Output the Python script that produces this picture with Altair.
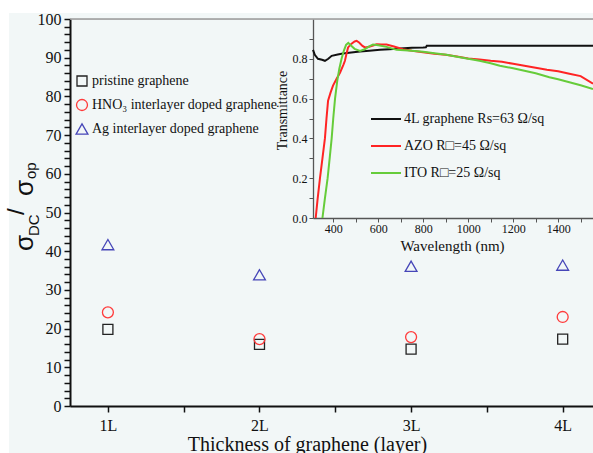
import altair as alt
import pandas as pd

# ---------------- main scatter data ----------------
layers = ["1L", "2L", "3L", "4L"]
series_names = ["pristine graphene", "HNO₃ interlayer doped graphene", "Ag interlayer doped graphene"]
pristine = [19.8, 15.9, 14.7, 17.3]
hno3 = [24.2, 17.3, 17.8, 23.0]
ag = [41.7, 33.9, 36.1, 36.4]

# ---------------- inset transmittance data ----------------
curve_names = ["4L graphene Rs=63 Ω/sq", "AZO R□=45 Ω/sq", "ITO R□=25 Ω/sq"]
graphene_nm = [310, 318, 332, 350, 363, 378, 393, 420, 443, 480, 519, 560, 608, 650, 697, 750, 800, 812, 816, 900, 1000, 1100, 1200, 1300, 1400, 1500, 1555]
graphene_t = [0.845, 0.82, 0.80, 0.795, 0.79, 0.80, 0.815, 0.822, 0.827, 0.832, 0.837, 0.841, 0.845, 0.848, 0.852, 0.855, 0.857, 0.858, 0.866, 0.866, 0.866, 0.866, 0.866, 0.866, 0.866, 0.866, 0.866]
azo_nm = [322, 330, 341, 352, 363, 370, 377, 388, 399, 415, 430, 445, 452, 460, 466, 480, 495, 504, 515, 530, 541, 560, 580, 593, 615, 637, 670, 710, 750, 799, 850, 900, 950, 1000, 1050, 1100, 1150, 1200, 1250, 1300, 1350, 1400, 1450, 1500, 1555]
azo_t = [0.0, 0.09, 0.2, 0.3, 0.4, 0.5, 0.59, 0.63, 0.665, 0.70, 0.73, 0.77, 0.79, 0.83, 0.857, 0.875, 0.887, 0.89, 0.882, 0.865, 0.857, 0.86, 0.868, 0.873, 0.872, 0.872, 0.862, 0.848, 0.84, 0.833, 0.825, 0.82, 0.812, 0.802, 0.797, 0.79, 0.785, 0.775, 0.765, 0.755, 0.745, 0.737, 0.725, 0.713, 0.675]
ito_nm = [352, 362, 375, 385, 393, 400, 408, 418, 427, 437, 447, 457, 467, 480, 495, 519, 540, 560, 577, 600, 637, 682, 750, 800, 850, 904, 950, 1000, 1050, 1100, 1141, 1200, 1250, 1300, 1361, 1400, 1450, 1500, 1555]
ito_t = [0.0, 0.09, 0.2, 0.31, 0.4, 0.5, 0.6, 0.69, 0.75, 0.8, 0.84, 0.87, 0.88, 0.865, 0.85, 0.84, 0.848, 0.862, 0.872, 0.868, 0.86, 0.845, 0.84, 0.835, 0.828, 0.82, 0.81, 0.80, 0.79, 0.778, 0.765, 0.752, 0.74, 0.727, 0.707, 0.697, 0.682, 0.667, 0.648]

# ---------------- tables ----------------
rows = []
for name, vals in zip(series_names, [pristine, hno3, ag]):
    for i, v in enumerate(vals):
        rows.append({"pos": i + 1, "layer": layers[i], "series": name, "value": v})
df_pts = pd.DataFrame(rows)

crows = []
for k, (name, xs, ys) in enumerate(zip(curve_names, [graphene_nm, azo_nm, ito_nm], [graphene_t, azo_t, ito_t])):
    for x, y in zip(xs, ys):
        crows.append({"nm": x, "T": y, "curve": name, "k": k})
df_cur = pd.DataFrame(crows)

SERIF = "Liberation Serif"
SANS = "Liberation Sans"
W, H = 523, 387

x_label_expr = "".join(f"datum.value == {i+1} ? '{lab}' : " for i, lab in enumerate(layers)) + "''"

main_legend = dict(title=None, orient="none", legendX=5, legendY=55,
                   labelFont=SERIF, labelFontSize=14, labelColor="#111", labelLimit=0,
                   symbolStrokeWidth=1.3, symbolSize=120, rowPadding=7,
                   labelOffset=3, padding=0)

points = alt.Chart(df_pts).mark_point(filled=False, strokeWidth=1.3, opacity=1).encode(
    x=alt.X("pos:Q",
            scale=alt.Scale(domain=[0.75, 4.2], nice=False, zero=False),
            axis=alt.Axis(values=[1, 1.5, 2, 2.5, 3, 3.5, 4], labelExpr=x_label_expr,
                          title="Thickness of graphene (layer)", titleFont=SERIF, titleFontSize=20,
                          titleFontWeight="normal", titleX=237, titleY=44, titleBaseline="alphabetic",
                          titleAlign="center", labelFont=SERIF, labelFontSize=16, labelPadding=5,
                          tickSize=6, tickWidth=1.5, tickColor="#111", domainColor="#111",
                          domainWidth=2, grid=False, labelFlush=False, labelOverlap=False,
                          labelColor="#111", titleColor="#111")),
    y=alt.Y("value:Q",
            scale=alt.Scale(domain=[0, 100], nice=False),
            axis=alt.Axis(values=list(range(0, 101, 2)),
                          labelExpr="datum.value % 10 == 0 ? datum.label : ''",
                          title=None, labelFont=SERIF, labelFontSize=16, labelPadding=3,
                          tickSize=6, tickWidth=1.5, tickColor="#111", domainColor="#111",
                          domainWidth=2, grid=False, labelOverlap=False, labelColor="#111")),
    color=alt.Color("series:N",
                    scale=alt.Scale(domain=series_names, range=["#222222", "#ff3b3b", "#4646b8"]),
                    legend=alt.Legend(**main_legend)),
    shape=alt.Shape("series:N",
                    scale=alt.Scale(domain=series_names, range=["square", "circle", "triangle-up"]),
                    legend=alt.Legend(**main_legend)),
    size=alt.Size("series:N", scale=alt.Scale(domain=series_names, range=[100, 140, 190]), legend=None),
)

curves = alt.Chart(df_cur).mark_line(strokeWidth=2).encode(
    x=alt.X("nm:Q",
            scale=alt.Scale(domain=[310, 1555], range=[243, 523], nice=False, zero=False),
            axis=alt.Axis(orient="bottom", offset=-188, values=list(range(400, 1501, 100)),
                          format="d", labelExpr="datum.value % 200 == 0 ? datum.label : ''",
                          title="Wavelength (nm)", titleFont=SERIF, titleFontSize=15,
                          titleFontWeight="normal", titleX=382, titleY=27, titleBaseline="middle",
                          titleAlign="center", labelFont=SERIF, labelFontSize=12, labelPadding=1,
                          tickSize=4, tickColor="#555", domainColor="#555", domainWidth=1.3,
                          grid=False, labelFlush=False, labelOverlap=False, labelColor="#111",
                          titleColor="#111")),
    y=alt.Y("T:Q",
            scale=alt.Scale(domain=[0, 1], range=[199, 0], nice=False, zero=False),
            axis=alt.Axis(orient="left", offset=-243, values=[round(i * 0.1, 1) for i in range(10)],
                          format=".1f", labelExpr="round(datum.value * 10) % 2 == 0 ? datum.label : ''",
                          title="Transmittance", titleFont=SERIF, titleFontSize=14,
                          titleFontWeight="normal", titleX=-31, titleY=91, titleAngle=270,
                          titleBaseline="middle", titleAlign="center", labelFont=SERIF,
                          labelFontSize=12, labelPadding=2, tickSize=4, tickColor="#555",
                          domainColor="#555", domainWidth=1.3, grid=False, labelOverlap=False,
                          labelColor="#111", titleColor="#111")),
    color=alt.Color("curve:N",
                    scale=alt.Scale(domain=curve_names, range=["#111111", "#ff2424", "#66cc3a"]),
                    legend=alt.Legend(title=None, orient="none", legendX=300, legendY=84,
                                      labelFont=SERIF, labelFontSize=14, labelColor="#111",
                                      labelLimit=0, symbolType="stroke", symbolSize=900,
                                      symbolStrokeWidth=2, rowPadding=4, labelOffset=2,
                                      padding=0)),
    order="k:Q",
    detail="curve:N",
)

one = alt.Data(values=[{"a": 0}])

top_white = alt.Chart(one).mark_rect(color="white").encode(
    x=alt.value(-70), x2=alt.value(W), y=alt.value(-19), y2=alt.value(-6))
left_white = alt.Chart(one).mark_rect(color="white").encode(
    x=alt.value(-70), x2=alt.value(-61), y=alt.value(-19), y2=alt.value(434))
top_border = alt.Chart(one).mark_rule(color="#9a9a9a", strokeWidth=1.5).encode(
    x=alt.value(0), x2=alt.value(W), y=alt.value(0))


def ytxt(t, x, y, size):
    return alt.Chart(one).mark_text(text=t, angle=270, align="left", baseline="alphabetic",
                                    font=SANS, fontSize=size, color="#111").encode(
        x=alt.value(x), y=alt.value(y))


ytitle = [
    ytxt("σ", -37, 232, 26),
    ytxt("DC", -31, 217, 15),
    ytxt("/", -46, 196, 24),
    ytxt("σ", -37, 177, 26),
    ytxt("op", -34, 160, 15),
]

chart = alt.layer(top_white, left_white, top_border, points, curves, *ytitle).resolve_scale(
    x="independent", y="independent", color="independent", shape="independent", size="independent"
).properties(
    width=W, height=H,
    padding={"left": 70, "top": 19, "right": 0, "bottom": 47},
    autosize=alt.AutoSizeParams(type="none"),
    background="#f2f7f7",
).configure_view(strokeWidth=0).configure(font=SERIF)

chart.save("out.html", embed_options={"renderer": "svg", "actions": False})
